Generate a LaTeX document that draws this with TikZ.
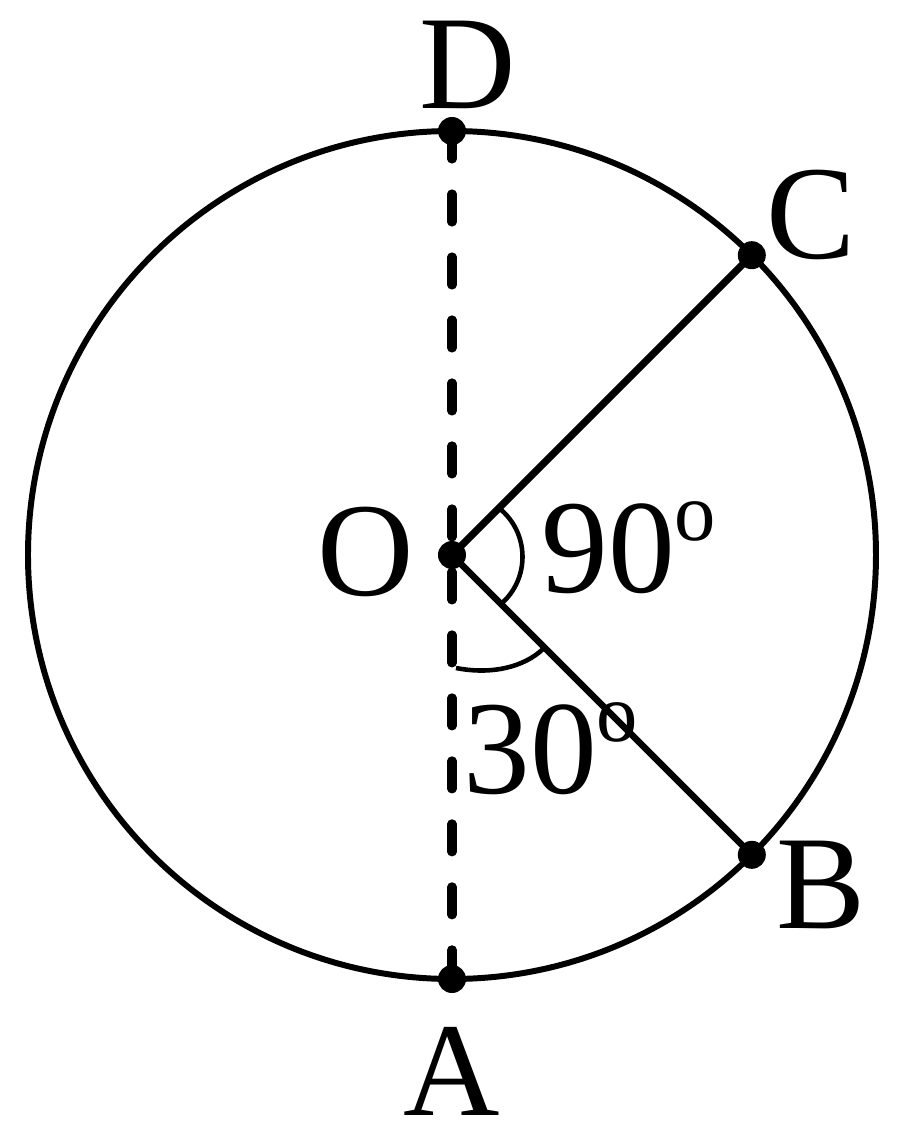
\documentclass[tikz,border=0pt]{standalone}
\usepackage{fontspec}
\setmainfont{LiberationSerif}[Extension=.ttf,UprightFont=*-Regular]
\begin{document}
\begin{tikzpicture}[x=0.02cm,y=0.02cm,
	lbl/.style={inner sep=0pt,anchor=base,font=\fontsize{76}{76}\selectfont}]
	\useasboundingbox (-452,-579) rectangle (448,555);
	\coordinate (O) at (0,0);
	\coordinate (D) at (90:424);
	\coordinate (A) at (-90:424);
	\coordinate (C) at (45:424);
	\coordinate (B) at (-45:424);
	\draw [line width=3.4pt] (O) circle (424);
	\draw [line width=5.2pt,line cap=round,dash pattern=on 0.56cm off 0.7cm] (D)-- (A);
	\draw [line width=4.2pt] (O)-- (C);
	\draw [line width=3.7pt] (O)-- (B);
	\draw [line width=2.6pt] (47,47) .. controls (78,22) and (78,-24) .. (49,-49);
	\draw [line width=2.6pt] (4,-113) .. controls (40,-120) and (72,-112) .. (91,-94);
	\foreach \p in {O,A,B,C,D}
		\fill (\p) circle (14);
	\node [lbl] (labD) at (16,447) {D};
	\node [lbl] (labC) at (359,297) {C};
	\node [lbl] (labB) at (369,-373) {B};
	\node [lbl] (labA) at (0,-560) {A};
	\node [lbl] (labO) at (-86,-40) {O};
	\node [lbl,anchor=base west] (ang90) at (89,-37) {90\raisebox{1.04cm}{\fontsize{47}{47}\selectfont o}};
	\node [lbl,anchor=base west] (ang30) at (11,-238) {30\raisebox{1.04cm}{\fontsize{47}{47}\selectfont o}};
\end{tikzpicture}
\end{document}
